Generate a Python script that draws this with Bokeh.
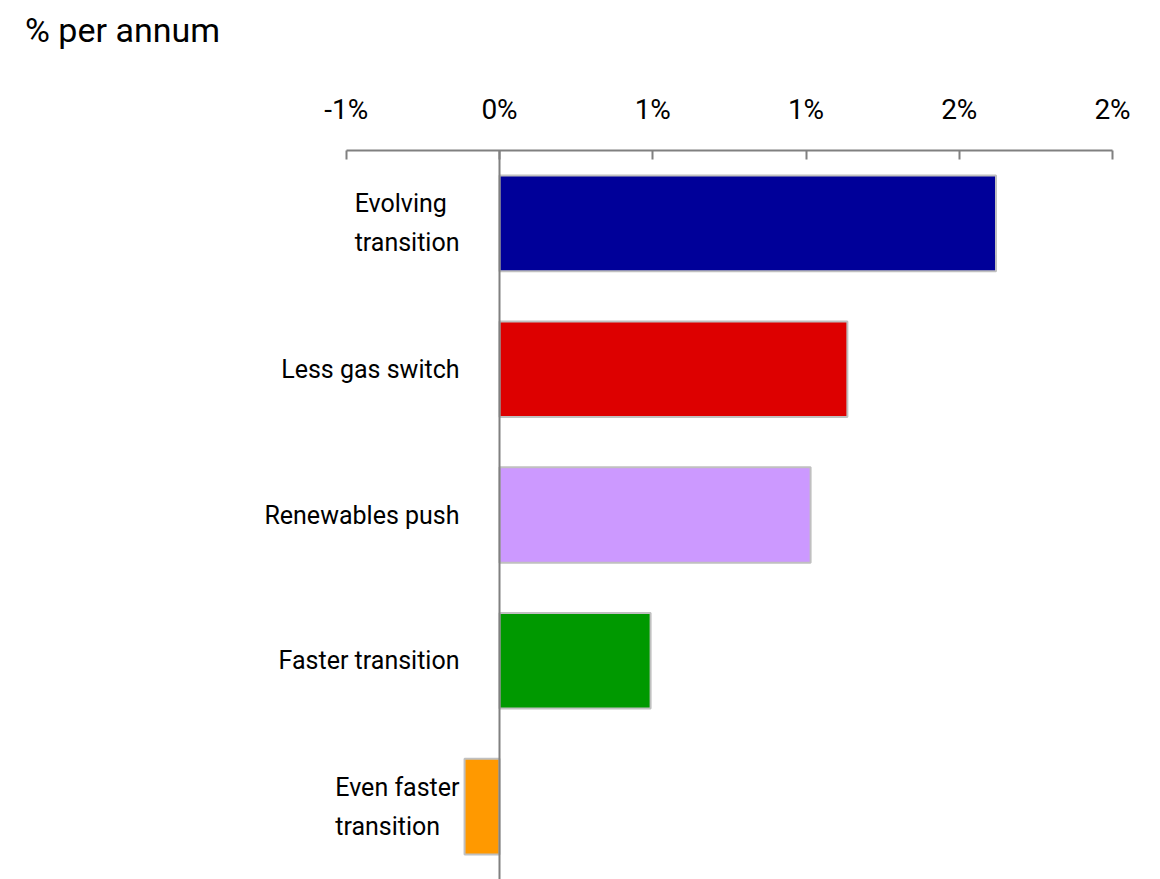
from bokeh.plotting import figure
from bokeh.models import FactorRange, Range1d, FixedTicker, LinearAxis, Span, LabelSet, ColumnDataSource, Div
from bokeh.layouts import column
from bokeh.core.properties import value
from bokeh.embed import file_html
from bokeh.resources import INLINE

FONT = "Roboto"

categories = ["Evolving\ntransition", "Less gas switch", "Renewables push",
              "Faster transition", "Even faster\ntransition"]
growth = [1.62, 1.135, 1.015, 0.493, -0.114]
colors = ["#000099", "#DD0000", "#CC99FF", "#009900", "#FF9900"]
tick_values = [-0.5, 0.0, 0.5, 1.0, 1.5, 2.0]
tick_labels = ["-1%", "0%", "1%", "1%", "2%", "2%"]
title_text = "% per annum"

src = ColumnDataSource(dict(cat=categories, val=growth, color=colors, zero=[0.0] * len(growth)))

TITLE_H = 60
title = Div(text=('<div style="font-family: Roboto; font-size: 34px; line-height: 34px; '
                  'color: black; padding: 13px 0 0 25px; white-space: nowrap;">'
                  + title_text + '</div>'),
            width=1160, height=TITLE_H, margin=(0, 0, 0, 0))

# frame spans the full width so that category labels (left of zero) are not clipped;
# the value axis itself is bounded to the tick range.
px_per_unit = (1112 - 499) / 2.0
x_start = 0.0 - 499 / px_per_unit

p = figure(width=1160, height=879 - TITLE_H, output_backend="svg", toolbar_location=None,
           y_range=FactorRange(factors=categories[::-1], range_padding=0),
           x_range=Range1d(x_start, 2.0),
           x_axis_location=None, y_axis_location=None,
           min_border_left=0, min_border_right=48, min_border_top=150 - TITLE_H,
           min_border_bottom=0, margin=(0, 0, 0, 0))
p.outline_line_color = None
p.xgrid.grid_line_color = None
p.ygrid.grid_line_color = None
p.background_fill_color = "white"
p.border_fill_color = "white"

p.hbar(y="cat", left="zero", right="val", height=0.656, fill_color="color",
       line_color="#C0C0C0", line_width=2, source=src)

xa = LinearAxis(ticker=FixedTicker(ticks=tick_values), bounds=(tick_values[0], tick_values[-1]),
                major_label_overrides={v: l for v, l in zip(tick_values, tick_labels)})
xa.axis_line_color = "#808080"
xa.axis_line_width = 2
xa.major_tick_line_color = "#808080"
xa.major_tick_line_width = 2
xa.major_tick_in = 9
xa.major_tick_out = 0
xa.minor_tick_line_color = None
xa.major_label_standoff = 25
xa.major_label_text_font = FONT
xa.major_label_text_font_size = "28px"
xa.major_label_text_color = "black"
p.add_layout(xa, "above")

p.add_layout(Span(location=0, dimension="height", line_color="#808080", line_width=2))

p.add_layout(LabelSet(x="zero", y="cat", text="cat", source=src, x_offset=-40,
                      text_align="right", text_baseline="middle", text_font=value(FONT),
                      text_font_size=value("25px"), text_color="black", text_line_height=1.35))

layout = column(title, p, spacing=0, margin=(0, 0, 0, 0))
open("out.html", "w").write(file_html(layout, INLINE))
